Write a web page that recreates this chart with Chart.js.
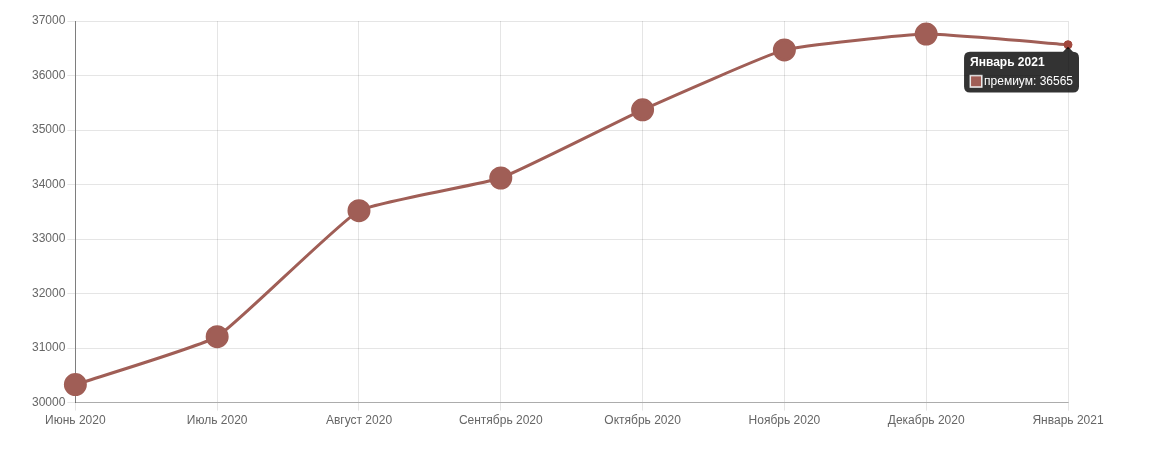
<!DOCTYPE html>
<html>
<head>
<meta charset="utf-8">
<script src="https://cdn.jsdelivr.net/npm/chart.js@4"></script>
<style>
    body { margin: 0; background: #fff; }
    #wrap { width: 1154px; height: 470px; }
</style>
</head>
<body>
<div id="wrap"><canvas id="chart"></canvas></div>
<script>
const months = ['Июнь 2020', 'Июль 2020', 'Август 2020', 'Сентябрь 2020', 'Октябрь 2020', 'Ноябрь 2020', 'Декабрь 2020', 'Январь 2021'];
const premium = [30330, 31210, 33520, 34120, 35370, 36470, 36760, 36565];
const seriesName = 'премиум';

Chart.defaults.font.family = '"Liberation Sans", Arial, sans-serif';
Chart.defaults.font.size = 12;
Chart.defaults.color = '#666';

const lineColor = 'rgb(160, 94, 86)';

const ctx = document.getElementById('chart').getContext('2d');
const myChart = new Chart(ctx, {
    type: 'line',
    data: {
        labels: months,
        datasets: [{
            label: seriesName,
            data: premium,
            borderColor: lineColor,
            backgroundColor: lineColor,
            pointBackgroundColor: lineColor,
            pointBorderColor: lineColor,
            borderWidth: 3,
            pointRadius: 10,
            pointHoverRadius: 4,
            pointHoverBorderWidth: 1,
            tension: 0.12,
            fill: false
        }]
    },
    options: {
        responsive: true,
        maintainAspectRatio: false,
        animation: false,
        layout: {
            padding: { left: 30, top: 21, right: 86, bottom: 39 }
        },
        plugins: {
            legend: { display: false },
            tooltip: {
                backgroundColor: 'rgba(0,0,0,0.8)',
                titleFont: { weight: 'bold', size: 12 },
                bodyFont: { size: 12 },
                padding: { x: 6, y: 4 },
                titleMarginBottom: 4,
                cornerRadius: 6,
                caretSize: 5,
                xAlign: 'right',
                yAlign: 'top',
                displayColors: true,
                boxWidth: 12,
                boxHeight: 12,
                callbacks: {
                    label: function(item) {
                        return item.dataset.label + ': ' + item.raw;
                    },
                    labelColor: function() {
                        return { borderColor: '#ddd', backgroundColor: lineColor, borderWidth: 1 };
                    }
                }
            }
        },
        scales: {
            x: {
                grid: { color: 'rgba(0,0,0,0.1)', tickLength: 8 },
                border: { color: 'rgba(0,0,0,0.25)' },
                ticks: { maxRotation: 0 }
            },
            y: {
                min: 30000,
                max: 37000,
                grid: { color: 'rgba(0,0,0,0.1)', tickLength: 8 },
                border: { color: 'rgba(0,0,0,0.45)' },
                ticks: {
                    stepSize: 1000,
                    padding: 2,
                    callback: function(value) {
                        return value;
                    }
                }
            }
        }
    }
});

const last = premium.length - 1;
const pt = myChart.getDatasetMeta(0).data[last];
myChart.setActiveElements([{ datasetIndex: 0, index: last }]);
myChart.tooltip.setActiveElements([{ datasetIndex: 0, index: last }], { x: pt.x, y: pt.y });
myChart.update();
</script>
</body>
</html>
